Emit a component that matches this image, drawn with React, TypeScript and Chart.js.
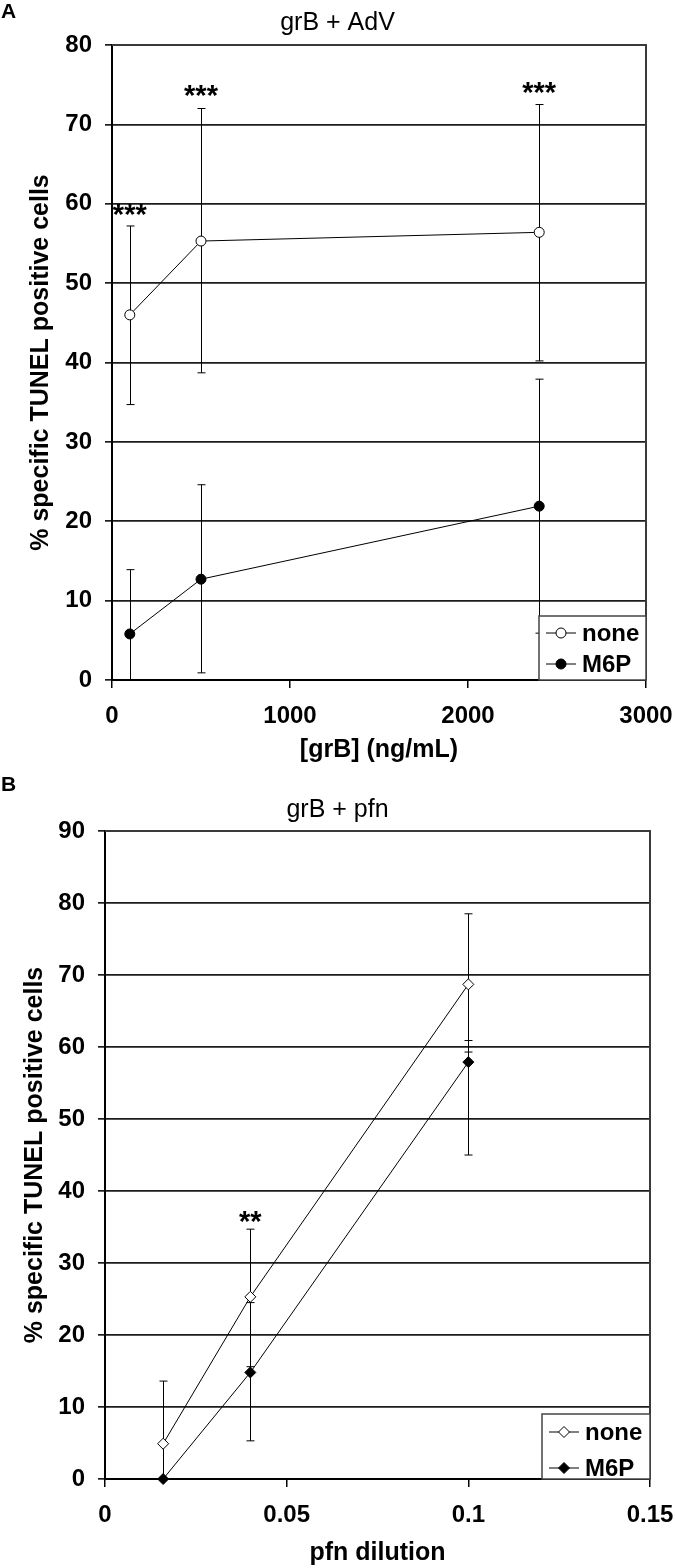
import { useEffect, useRef } from 'react';
import { Chart, registerables } from 'chart.js';

Chart.register(...registerables);

const FONT = "'Liberation Sans', Arial, Helvetica, sans-serif";

// ---------- Panel A: grB + AdV ----------
const doseA = [100, 500, 2400];
const noneA = [46.0, 55.3, 56.4];
const noneALow = [34.7, 38.7, 40.2];
const noneAHigh = [57.2, 72.0, 72.5];
const m6pA = [5.8, 12.7, 21.9];
const m6pALow = [-2.3, 0.9, 5.9];
const m6pAHigh = [13.9, 24.6, 37.9];
const xTicksA = [0, 1000, 2000, 3000];
const xTickLabelsA = ['0', '1000', '2000', '3000'];
const yTicksA = [0, 10, 20, 30, 40, 50, 60, 70, 80];
const yTickLabelsA = ['0', '10', '20', '30', '40', '50', '60', '70', '80'];
const starTextA = ['***', '***', '***'];
const starXA = [100, 500, 2400];
const starYA = [59.6, 74.6, 74.9];

// ---------- Panel B: grB + pfn ----------
const dilB = [0.016, 0.04, 0.1];
const noneB = [4.9, 25.3, 68.7];
const noneBLow = [-3.8, 15.6, 59.3];
const noneBHigh = [13.6, 34.7, 78.5];
const m6pB = [0, 14.8, 57.9];
const m6pBLow = [0, 5.3, 45.0];
const m6pBHigh = [0, 24.5, 60.9];
const xTicksB = [0, 0.05, 0.1, 0.15];
const xTickLabelsB = ['0', '0.05', '0.1', '0.15'];
const yTicksB = [0, 10, 20, 30, 40, 50, 60, 70, 80, 90];
const yTickLabelsB = ['0', '10', '20', '30', '40', '50', '60', '70', '80', '90'];
const starTextB = ['**'];
const starXB = [0.04];
const starYB = [36.8];

const seriesLabels = ['none', 'M6P'];
const yTitle = '% specific TUNEL positive cells';

type PanelCfg = {
  letter: string;
  letterY: number;
  title: string;
  titleY: number;
  xs: number[];
  errors: { low: number[]; high: number[] }[];
  stars: { text: string[]; x: number[]; y: number[] };
  legend: { width: number; height: number; rows: number[] };
};

function drawMarker(ctx: CanvasRenderingContext2D, style: string, x: number, y: number, r: number, fill: string) {
  ctx.beginPath();
  if (style === 'rectRot') {
    ctx.moveTo(x, y - r);
    ctx.lineTo(x + r, y);
    ctx.lineTo(x, y + r);
    ctx.lineTo(x - r, y);
    ctx.closePath();
  } else {
    ctx.arc(x, y, r, 0, Math.PI * 2);
  }
  ctx.fillStyle = fill;
  ctx.fill();
  ctx.strokeStyle = '#000';
  ctx.lineWidth = 1;
  ctx.stroke();
}

function makePanelPlugin(cfg: PanelCfg) {
  return {
    id: 'panel' + cfg.letter,
    beforeDatasetsDraw(chart: any) {
      const { ctx, chartArea: a } = chart;
      const xs = chart.scales.x;
      const ys = chart.scales.y;
      ctx.save();
      ctx.beginPath();
      ctx.rect(a.left, a.top - 1, a.right - a.left, a.bottom - a.top + 2);
      ctx.clip();
      ctx.strokeStyle = '#000';
      ctx.lineWidth = 1;
      cfg.errors.forEach((err) => {
        cfg.xs.forEach((xv, i) => {
          if (err.low[i] === err.high[i]) return;
          const px = Math.round(xs.getPixelForValue(xv)) + 0.5;
          const lo = ys.getPixelForValue(err.low[i]);
          const hi = ys.getPixelForValue(err.high[i]);
          ctx.beginPath();
          ctx.moveTo(px, lo);
          ctx.lineTo(px, hi);
          ctx.moveTo(px - 4, lo);
          ctx.lineTo(px + 4, lo);
          ctx.moveTo(px - 4, hi);
          ctx.lineTo(px + 4, hi);
          ctx.stroke();
        });
      });
      ctx.restore();
    },
    afterDraw(chart: any) {
      const { ctx, chartArea: a } = chart;
      const xs = chart.scales.x;
      const ys = chart.scales.y;
      ctx.save();
      // top & right frame
      ctx.strokeStyle = '#3a3a3a';
      ctx.lineWidth = 2;
      ctx.beginPath();
      ctx.moveTo(a.left, a.top);
      ctx.lineTo(a.right, a.top);
      ctx.lineTo(a.right, a.bottom);
      ctx.stroke();

      // significance stars
      ctx.fillStyle = '#000';
      ctx.font = `bold 29px ${FONT}`;
      ctx.textAlign = 'center';
      ctx.textBaseline = 'alphabetic';
      cfg.stars.text.forEach((t, i) => {
        ctx.fillText(t, xs.getPixelForValue(cfg.stars.x[i]), ys.getPixelForValue(cfg.stars.y[i]) + 17);
      });

      // legend
      const lw = cfg.legend.width;
      const lh = cfg.legend.height;
      const lx = a.right - lw;
      const ly = a.bottom - lh;
      ctx.fillStyle = '#fff';
      ctx.fillRect(lx, ly, lw, lh);
      ctx.strokeStyle = '#444';
      ctx.lineWidth = 1.5;
      ctx.strokeRect(lx, ly, lw, lh);
      chart.data.datasets.forEach((ds: any, i: number) => {
        const ry = ly + cfg.legend.rows[i];
        ctx.strokeStyle = '#000';
        ctx.lineWidth = 1;
        ctx.beginPath();
        ctx.moveTo(lx + 7, ry);
        ctx.lineTo(lx + 37, ry);
        ctx.stroke();
        drawMarker(ctx, ds.pointStyle, lx + 22, ry, ds.pointRadius, ds.pointBackgroundColor);
        ctx.fillStyle = '#000';
        ctx.font = `bold 24px ${FONT}`;
        ctx.textAlign = 'left';
        ctx.textBaseline = 'middle';
        ctx.fillText(ds.label, lx + 43, ry + 1);
      });

      // chart title and panel letter
      ctx.fillStyle = '#000';
      ctx.font = `25px ${FONT}`;
      ctx.textAlign = 'center';
      ctx.textBaseline = 'middle';
      ctx.fillText(cfg.title, 337.5, cfg.titleY);
      ctx.font = `bold 21px ${FONT}`;
      ctx.textAlign = 'left';
      ctx.fillText(cfg.letter, 1, cfg.letterY);
      ctx.restore();
    },
  };
}

function buildConfig(opts: {
  xs: number[];
  none: number[];
  m6p: number[];
  style: string;
  radius: number;
  xTicks: number[];
  xLabels: string[];
  yTicks: number[];
  yLabels: string[];
  xTitle: string;
  yMax: number;
  xMax: number;
  yWidth: number;
  xHeight: number;
  padTop: number;
  padRight: number;
  yTitlePad: number;
  xTitlePad: number;
  plugin: any;
}) {
  const tickFont = { family: FONT, size: 24, weight: 'bold' as const };
  const titleFont = { family: FONT, size: 25, weight: 'bold' as const };
  const mk = (label: string, ys: number[], fill: string) => ({
    label,
    data: opts.xs.map((x, i) => ({ x, y: ys[i] })),
    showLine: true,
    borderColor: '#000',
    borderWidth: 1,
    pointStyle: opts.style,
    pointRadius: opts.radius,
    pointBackgroundColor: fill,
    pointBorderColor: '#000',
    pointBorderWidth: 1,
    clip: false as const,
  });
  return {
    type: 'scatter' as const,
    data: {
      datasets: [mk(seriesLabels[0], opts.none, '#fff'), mk(seriesLabels[1], opts.m6p, '#000')],
    },
    options: {
      responsive: false,
      animation: false as const,
      devicePixelRatio: 1,
      layout: { padding: { left: 0, right: opts.padRight, top: opts.padTop, bottom: 0 } },
      plugins: { legend: { display: false }, tooltip: { enabled: false }, title: { display: false } },
      scales: {
        x: {
          type: 'linear' as const,
          min: 0,
          max: opts.xMax,
          afterBuildTicks: (s: any) => {
            s.ticks = opts.xTicks.map((v) => ({ value: v }));
          },
          afterFit: (s: any) => {
            s.height = opts.xHeight;
            s.paddingLeft = 0;
            s.paddingRight = 0;
          },
          ticks: {
            autoSkip: false,
            maxRotation: 0,
            padding: 14,
            color: '#000',
            font: tickFont,
            callback: (_v: any, i: number) => opts.xLabels[i],
          },
          grid: { drawOnChartArea: false, drawTicks: true, tickLength: 8, color: '#000', lineWidth: 1.5 },
          border: { display: true, color: '#000', width: 2 },
          title: {
            display: true,
            text: opts.xTitle,
            color: '#000',
            font: titleFont,
            padding: { top: 0, bottom: opts.xTitlePad },
          },
        },
        y: {
          type: 'linear' as const,
          min: 0,
          max: opts.yMax,
          afterBuildTicks: (s: any) => {
            s.ticks = opts.yTicks.map((v) => ({ value: v }));
          },
          afterFit: (s: any) => {
            s.width = opts.yWidth;
            s.paddingTop = 0;
            s.paddingBottom = 0;
          },
          ticks: {
            padding: 13,
            color: '#000',
            font: tickFont,
            callback: (_v: any, i: number) => opts.yLabels[i],
          },
          grid: { drawOnChartArea: true, drawTicks: true, tickLength: 7, color: '#1c1c1c', lineWidth: 1.7 },
          border: { display: true, color: '#000', width: 2 },
          title: {
            display: true,
            text: yTitle,
            color: '#000',
            font: titleFont,
            padding: { top: opts.yTitlePad, bottom: 0 },
          },
        },
      },
    },
    plugins: [opts.plugin],
  };
}

export default function App() {
  const refA = useRef<HTMLCanvasElement>(null);
  const refB = useRef<HTMLCanvasElement>(null);

  useEffect(() => {
    const pluginA = makePanelPlugin({
      letter: 'A',
      letterY: 12,
      title: 'grB + AdV',
      titleY: 23,
      xs: doseA,
      errors: [
        { low: noneALow, high: noneAHigh },
        { low: m6pALow, high: m6pAHigh },
      ],
      stars: { text: starTextA, x: starXA, y: starYA },
      legend: { width: 107, height: 64, rows: [17, 48] },
    });
    const pluginB = makePanelPlugin({
      letter: 'B',
      letterY: 20,
      title: 'grB + pfn',
      titleY: 45,
      xs: dilB,
      errors: [
        { low: noneBLow, high: noneBHigh },
        { low: m6pBLow, high: m6pBHigh },
      ],
      stars: { text: starTextB, x: starXB, y: starYB },
      legend: { width: 108, height: 65, rows: [18, 54] },
    });
    const chartA = new Chart(
      refA.current as HTMLCanvasElement,
      buildConfig({
        xs: doseA,
        none: noneA,
        m6p: m6pA,
        style: 'circle',
        radius: 5,
        xTicks: xTicksA,
        xLabels: xTickLabelsA,
        yTicks: yTicksA,
        yLabels: yTickLabelsA,
        xTitle: '[grB] (ng/mL)',
        yMax: 80,
        xMax: 3000,
        yWidth: 112,
        xHeight: 85,
        padTop: 45,
        padRight: 29,
        yTitlePad: 26,
        xTitlePad: 0,
        plugin: pluginA,
      }) as any
    );
    const chartB = new Chart(
      refB.current as HTMLCanvasElement,
      buildConfig({
        xs: dilB,
        none: noneB,
        m6p: m6pB,
        style: 'rectRot',
        radius: 5.5,
        xTicks: xTicksB,
        xLabels: xTickLabelsB,
        yTicks: yTicksB,
        yLabels: yTickLabelsB,
        xTitle: 'pfn dilution',
        yMax: 90,
        xMax: 0.15,
        yWidth: 105,
        xHeight: 89,
        padTop: 66,
        padRight: 25,
        yTitlePad: 20,
        xTitlePad: 0,
        plugin: pluginB,
      }) as any
    );
    return () => {
      chartA.destroy();
      chartB.destroy();
    };
  }, []);

  return (
    <div style={{ position: 'absolute', left: 0, top: 0, width: 675, height: 1568, background: '#fff', overflow: 'hidden' }}>
      <canvas ref={refA} width={675} height={765} style={{ position: 'absolute', left: 0, top: 0, width: 675, height: 765 }} />
      <canvas ref={refB} width={675} height={803} style={{ position: 'absolute', left: 0, top: 765, width: 675, height: 803 }} />
    </div>
  );
}
